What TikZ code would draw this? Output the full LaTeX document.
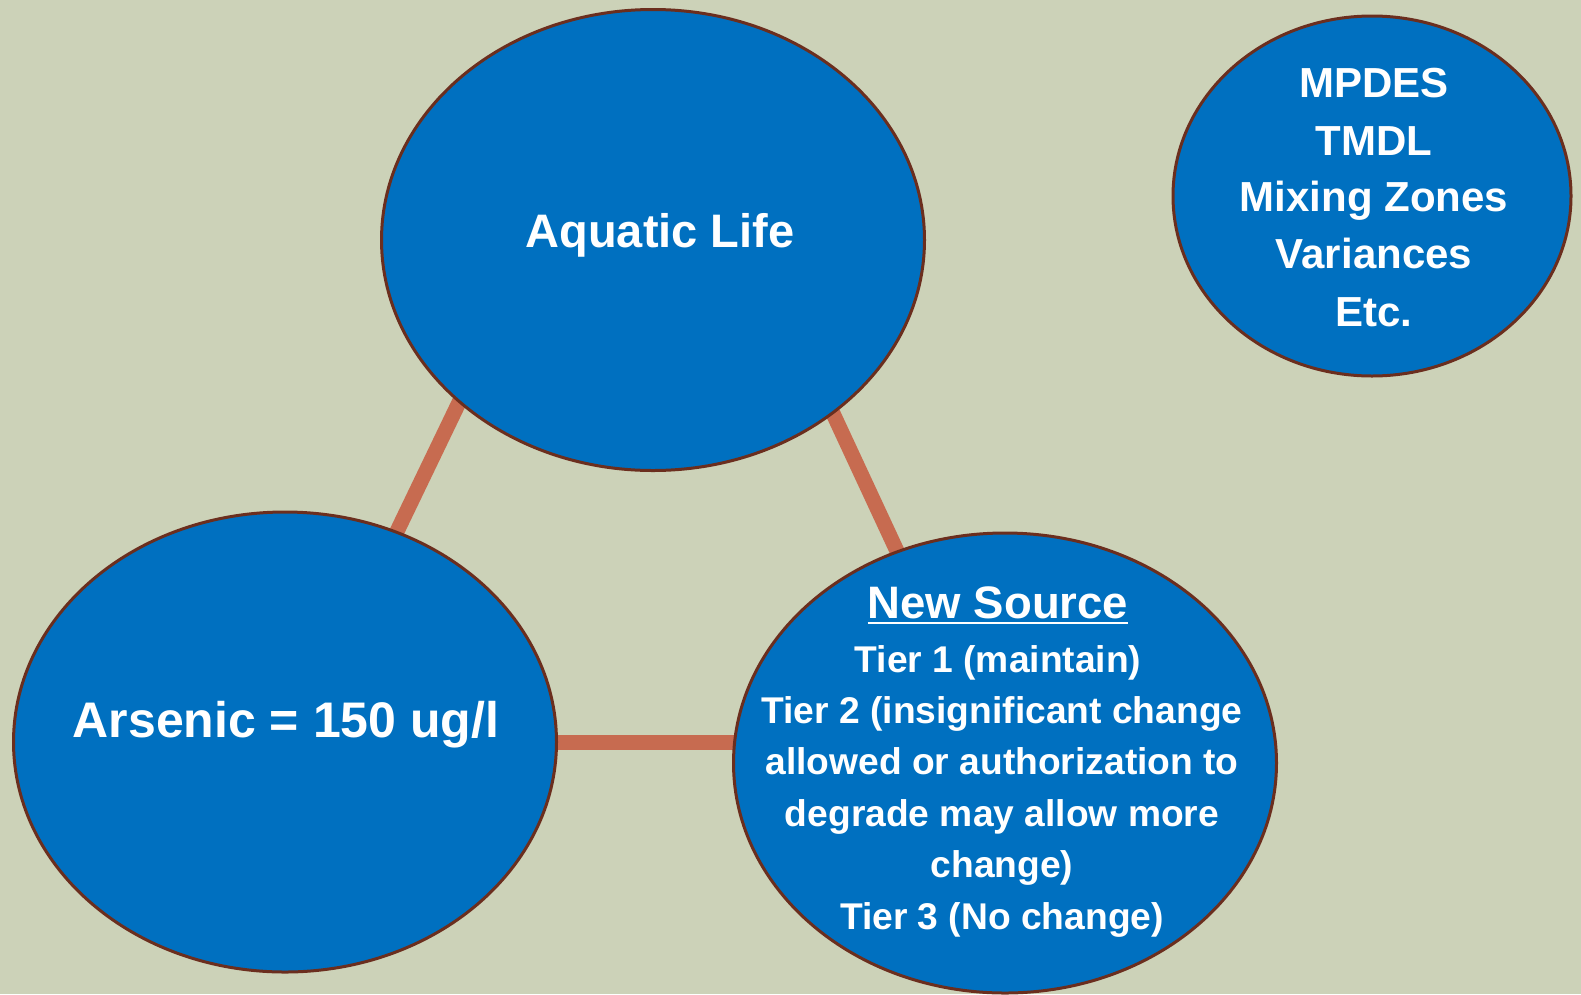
\documentclass[tikz,border=0pt]{standalone}
\usepackage{fontspec}
\setmainfont{Liberation Sans}
\usetikzlibrary{shapes.geometric}
\definecolor{bg}{HTML}{CCD2B8}
\definecolor{blob}{HTML}{0070C0}
\definecolor{rim}{HTML}{6B2E1E}
\definecolor{linkc}{HTML}{C76B50}
\pgfdeclarelayer{background}
\pgfsetlayers{background,main}
\tikzset{
  blobnode/.style={ellipse, draw=rim, line width=3pt, fill=blob, inner sep=0pt},
  linkline/.style={draw=linkc, line width=15pt, shorten <=-12pt, shorten >=-12pt},
  txt/.style={text=white, anchor=base, inner sep=0pt},
  bigtxt/.style={txt, font=\bfseries\fontsize{47}{56}\selectfont},
  mptxt/.style={txt, font=\bfseries\fontsize{42}{50}\selectfont},
  nstitle/.style={txt, font=\bfseries\fontsize{45.5}{54}\selectfont},
  nstxt/.style={txt, font=\bfseries\fontsize{37.2}{44}\selectfont}
}
\begin{document}
\begin{tikzpicture}[x=1pt,y=-1pt]
\begin{pgfonlayer}{background}
  \fill[bg] (0,0) rectangle (1581,994);
\end{pgfonlayer}
\useasboundingbox (0,0) rectangle (1581,994);

\node[blobnode, minimum width=543pt, minimum height=461pt] (aq) at (653,240) {};
\node[blobnode, minimum width=398pt, minimum height=360pt] (mp) at (1372,196) {};
\node[blobnode, minimum width=543pt, minimum height=460pt] (ar) at (285,742) {};
\node[blobnode, minimum width=543pt, minimum height=460pt] (ns) at (1005,763) {};

\begin{pgfonlayer}{background}
  \draw[linkline] (aq.220) -- (ar.62);
  \draw[linkline] (aq.316) -- (ns.117);
  \draw[linkline] (ar.0) -- (ar.0 -| ns.west);
\end{pgfonlayer}

\node[bigtxt] (aqt) at (660,247) {Aquatic Life};
\node[bigtxt, font=\bfseries\fontsize{50}{60}\selectfont] (art) at (286,737) {Arsenic = 150 ug/l};

\node[mptxt] (mp1) at (1374,97) {MPDES};
\node[mptxt] (mp2) at (1374,155) {TMDL};
\node[mptxt] (mp3) at (1374,211) {Mixing Zones};
\node[mptxt] (mp4) at (1374,268) {Variances};
\node[mptxt] (mp5) at (1374,326) {Etc.};

\node[nstitle] (nst) at (998,618) {New Source};
\draw[white, line width=2.5pt] ([yshift=-5pt]nst.base west) -- ([yshift=-5pt]nst.base east);
\node[nstxt] (ns1) at (998,672) {Tier 1 (maintain)};
\node[nstxt] (ns2) at (1002,723.4) {Tier 2 (insignificant change};
\node[nstxt] (ns3) at (1002,774.8) {allowed or authorization to};
\node[nstxt] (ns4) at (1002,826.2) {degrade may allow more};
\node[nstxt] (ns5) at (1002,877.6) {change)};
\node[nstxt] (ns6) at (1002,929) {Tier 3 (No change)};
\end{tikzpicture}
\end{document}
